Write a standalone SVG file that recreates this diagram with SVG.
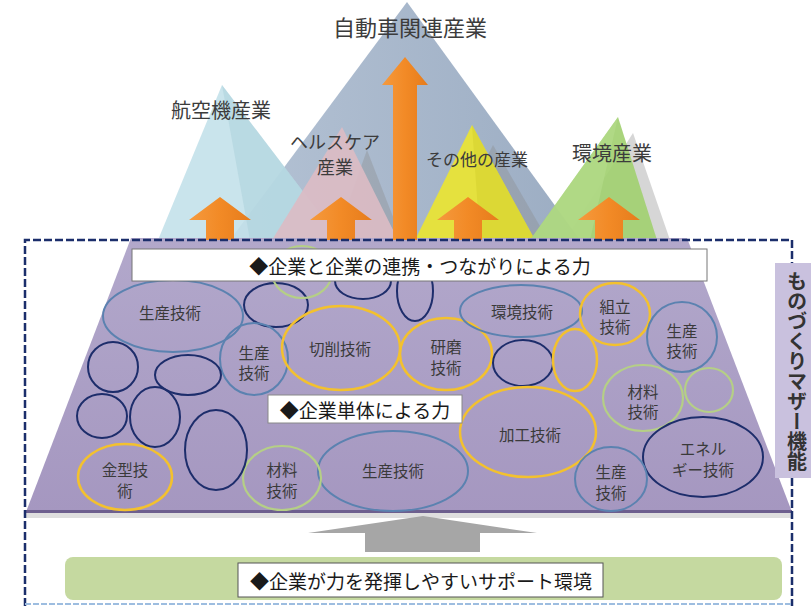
<svg xmlns="http://www.w3.org/2000/svg" width="811" height="606" viewBox="0 0 811 606">
<defs>
<style>
text{font-family:"Noto Sans CJK JP","Noto Sans CJK SC",sans-serif;fill:#333}
.lbl{font-size:15.5px;text-anchor:middle;dominant-baseline:central;fill:#3a3a3a}
.ind{text-anchor:middle;dominant-baseline:central;fill:#3c3c3c}
.box{font-size:19px;text-anchor:middle;dominant-baseline:central;fill:#1a1a1a}
.sb{fill:none;stroke:#5b82b0;stroke-width:2}
.nv{fill:none;stroke:#1d2d6b;stroke-width:2}
.yl{fill:none;stroke:#f3c12e;stroke-width:2.5}
.lg{fill:none;stroke:#b5cf86;stroke-width:2.2}
.oa{fill:url(#orange)}
.shadow{fill:#8a8a8a;opacity:0.35}
</style>
<linearGradient id="trap" x1="0" y1="0" x2="0" y2="1">
<stop offset="0" stop-color="#b2a8cb"/><stop offset="1" stop-color="#a597c0"/>
</linearGradient>
<linearGradient id="orange" x1="0" y1="0" x2="1" y2="0">
<stop offset="0" stop-color="#f59a3e"/><stop offset="0.5" stop-color="#f28a26"/><stop offset="1" stop-color="#e67c1c"/>
</linearGradient>
<linearGradient id="big" x1="0" y1="0" x2="1" y2="0">
<stop offset="0" stop-color="#b4c2d4"/><stop offset="1" stop-color="#9cadc3"/>
</linearGradient>
</defs>

<g id="mountains">
<g id="m-auto"><polygon points="407,2 230,240 580,240" fill="url(#big)"/></g>
<g id="m-aero"><polygon points="222,85 158,240 340,240" fill="#c3e1ea" opacity="0.9"/><polygon points="222,85 250,240 340,240" fill="#a9cfda" opacity="0.5"/></g>
<g id="m-health"><polygon points="367,150 335,240 402,240" class="shadow"/><polygon points="342,127 272,240 398,240" fill="#dbbcc4" opacity="0.92"/></g>
<g id="m-other"><polygon points="493,145 445,240 548,240" class="shadow"/><polygon points="472,125 415,240 535,240" fill="#e5e13e"/><polygon points="472,125 480,240 535,240" fill="#d6d230" opacity="0.6"/></g>
<g id="m-env"><polygon points="633,133 565,240 670,240" class="shadow"/><polygon points="618,117 530,240 657,240" fill="#a2d071" opacity="0.92"/><polygon points="618,117 530,240 590,240" fill="#b6dc8c" opacity="0.6"/></g>
</g>

<g id="base">
<rect x="26" y="512" width="766" height="6" fill="#bdbdbd" opacity="0.5"/>
<polygon points="131,238 687,238 792,512 26,512" fill="url(#trap)"/>
<line x1="26" y1="511.5" x2="792" y2="511.5" stroke="#6d5f8e" stroke-width="3"/>
</g>

<g id="techs">
<g id="t1"><ellipse cx="173" cy="316" rx="70" ry="36" class="sb"/><text class="lbl" x="170" y="312">生産技術</text></g>
<ellipse cx="276" cy="305" rx="32" ry="22" class="nv"/>
<ellipse cx="302" cy="272" rx="30" ry="26" class="lg"/>
<ellipse cx="363" cy="281" rx="28" ry="18" class="nv"/>
<ellipse cx="415" cy="291" rx="18" ry="30" class="nv"/>
<g id="t2"><ellipse cx="254" cy="359" rx="34" ry="36" class="sb"/><text class="lbl" x="254" y="352">生産</text><text class="lbl" x="254" y="372">技術</text></g>
<g id="t3"><ellipse cx="341" cy="348" rx="59" ry="42" class="yl"/><text class="lbl" x="340" y="348">切削技術</text></g>
<g id="t4"><ellipse cx="446" cy="354" rx="46" ry="36" class="yl"/><text class="lbl" x="446" y="346">研磨</text><text class="lbl" x="446" y="367">技術</text></g>
<ellipse cx="523" cy="363" rx="30" ry="23" class="nv"/>
<ellipse cx="575" cy="360" rx="22" ry="31" class="yl"/>
<g id="t5"><ellipse cx="521" cy="311" rx="61" ry="26" class="sb"/><text class="lbl" x="522" y="311">環境技術</text></g>
<g id="t6"><ellipse cx="615" cy="314" rx="35" ry="31" class="yl"/><text class="lbl" x="615" y="306">組立</text><text class="lbl" x="615" y="326">技術</text></g>
<g id="t7"><ellipse cx="682" cy="337" rx="35" ry="35" class="sb"/><text class="lbl" x="682" y="330">生産</text><text class="lbl" x="682" y="350">技術</text></g>
<g id="t8"><ellipse cx="643" cy="398" rx="40" ry="33" class="lg"/><text class="lbl" x="643" y="391">材料</text><text class="lbl" x="643" y="411">技術</text></g>
<ellipse cx="709" cy="390" rx="24" ry="22" class="lg"/>
<g id="t9"><ellipse cx="528" cy="432" rx="68" ry="45" class="yl"/><text class="lbl" x="530" y="434">加工技術</text></g>
<g id="t10"><ellipse cx="703" cy="457" rx="60" ry="40" class="nv"/><text class="lbl" x="703" y="448">エネル</text><text class="lbl" x="703" y="469">ギー技術</text></g>
<g id="t11"><ellipse cx="611" cy="479" rx="36" ry="32" class="sb"/><text class="lbl" x="611" y="471">生産</text><text class="lbl" x="611" y="492">技術</text></g>
<g id="t12"><ellipse cx="393" cy="471" rx="75" ry="40" class="sb"/><text class="lbl" x="393" y="470">生産技術</text></g>
<g id="t13"><ellipse cx="282" cy="478" rx="39" ry="32" class="lg"/><text class="lbl" x="282" y="469">材料</text><text class="lbl" x="282" y="490">技術</text></g>
<ellipse cx="216" cy="450" rx="31" ry="40" class="nv"/>
<g id="t14"><ellipse cx="125" cy="477" rx="47" ry="33" class="yl"/><text class="lbl" x="125" y="469">金型技</text><text class="lbl" x="125" y="490">術</text></g>
<ellipse cx="113" cy="367" rx="25" ry="25" class="nv"/>
<ellipse cx="188" cy="375" rx="33" ry="20" class="nv"/>
<ellipse cx="102" cy="416" rx="25" ry="22" class="nv"/>
<ellipse cx="155" cy="417" rx="25" ry="30" class="nv"/>
</g>

<g id="connectors">
<path class="oa" d="M220,197 L251,220 L234,220 L234,240 L206,240 L206,220 L189,220 Z"/>
<path class="oa" d="M341,197 L372,220 L355,220 L355,240 L327,240 L327,220 L310,220 Z"/>
<path class="oa" d="M468,197 L499,220 L482,220 L482,240 L454,240 L454,220 L437,220 Z"/>
<path class="oa" d="M609,197 L640,220 L623,220 L623,240 L595,240 L595,220 L578,220 Z"/>
<path class="oa" d="M405,57 L428,85 L417,85 L417,240 L393,240 L393,85 L382,85 Z"/>
<path fill="#a6a6a6" d="M423,516 L537,533 L480,533 L480,552 L365,552 L365,533 L308,533 Z"/>
</g>

<g id="industry-labels">
<text class="ind" x="410" y="26" font-size="22">自動車関連産業</text>
<text class="ind" x="221" y="109" font-size="20">航空機産業</text>
<text class="ind" x="335" y="141" font-size="18">ヘルスケア</text>
<text class="ind" x="335" y="166" font-size="18">産業</text>
<text class="ind" x="477" y="158" font-size="17">その他の産業</text>
<text class="ind" x="612" y="152" font-size="20">環境産業</text>
</g>

<g id="frame">
<path d="M25,606 V240 H792 V263 M792,478 V606" fill="none" stroke="#1b2e6b" stroke-width="2.5" stroke-dasharray="8 3"/>
<line x1="25" y1="604" x2="792" y2="604" stroke="#9dbde0" stroke-width="2" stroke-dasharray="6 2"/>
</g>

<g id="banner-link">
<rect x="132" y="249" width="575" height="32" fill="#fff" stroke="#777" stroke-width="1"/>
<text class="box" x="420" y="265" font-size="18.5">◆企業と企業の連携・つながりによる力</text>
</g>

<g id="banner-single">
<rect x="268" y="395" width="194" height="28" fill="#fff" stroke="#888" stroke-width="1"/>
<text class="box" x="365" y="409">◆企業単体による力</text>
</g>

<g id="support">
<rect x="65" y="557" width="717" height="43" rx="8" fill="#c5d9a0"/>
<rect x="238" y="563" width="365" height="34" fill="#fff" stroke="#555" stroke-width="1"/>
<text class="box" x="421" y="580">◆企業が力を発揮しやすいサポート環境</text>
</g>

<g id="side-label">
<rect x="775" y="263" width="40" height="215" fill="#c9c1de"/>
<text x="797" y="371" font-size="20" font-weight="bold" fill="#111" text-anchor="middle" style="writing-mode:vertical-rl">ものづくりマザー機能</text>
</g>
</svg>
